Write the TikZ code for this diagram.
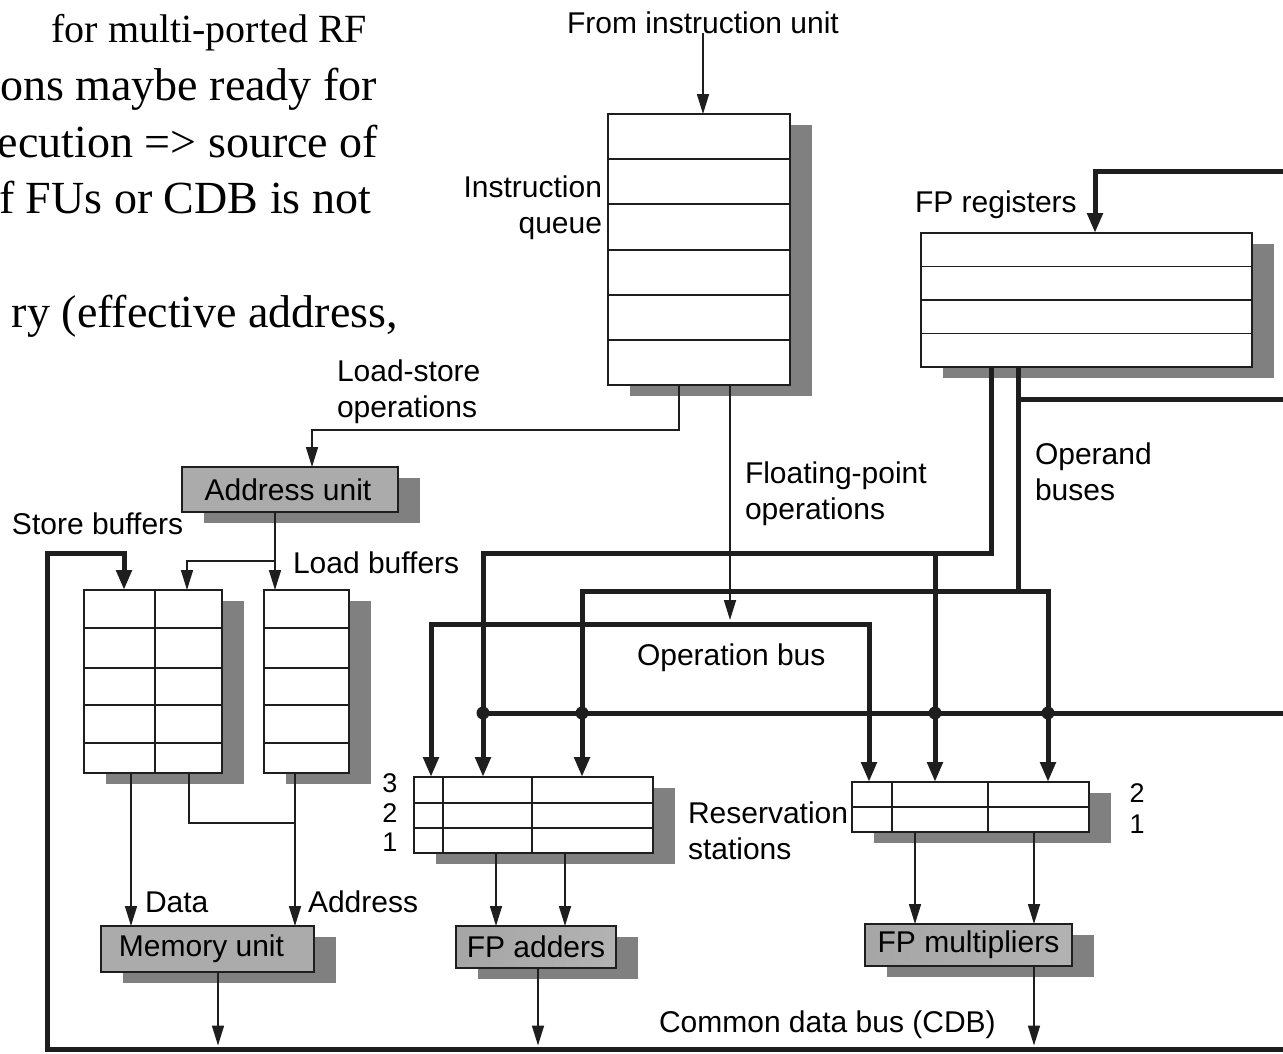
\documentclass[tikz,border=0pt]{standalone}
\usepackage{fontspec}
\setmainfont{Liberation Sans}
\newfontfamily\slidefont{Liberation Serif}
\usetikzlibrary{arrows.meta,shadows}
\definecolor{ln}{HTML}{1E1E1E}
\definecolor{shd}{HTML}{808080}
\definecolor{unitgray}{HTML}{ABABAB}
\begin{document}
\begin{tikzpicture}[x=1pt,y=-1pt,
  every node/.style={inner sep=0pt,outer sep=0pt},
  lbl/.style={font=\fontsize{30}{36}\selectfont},
  digit/.style={font=\fontsize{27}{30}\selectfont,anchor=base},
  slidetext/.style={font=\slidefont\fontsize{46}{57}\selectfont,anchor=base east},
  cell/.style={draw=ln,line width=1.8pt,fill=white,anchor=north west,
     general shadow={fill=shd,shadow xshift=22pt,shadow yshift=-11pt}},
  unit/.style={cell,fill=unitgray,font=\fontsize{30}{36}\selectfont},
  fpunit/.style={unit,left color=black!35,middle color=black!8,right color=black!30},
  grid/.style={draw=ln,line width=1.6pt},
  thin/.style={draw=ln,line width=1.6pt},
  bus/.style={draw=ln,line width=5pt},
  tip/.style={-{Triangle[length=20pt,width=12pt]}},
  btip/.style={-{Triangle[length=20pt,width=15pt]}},
  bstip/.style={{Triangle[length=20pt,width=15pt]}-},
  btips/.style={{Triangle[length=20pt,width=15pt]}-{Triangle[length=20pt,width=15pt]}},
  jdot/.style={fill=ln}
]
\useasboundingbox (0,0) rectangle (1283,1053);
\clip (0,0) rectangle (1283,1053);

% ---------- slide text (cut at the left edge) ----------
\node[slidetext,font=\slidefont\fontsize{40}{57}\selectfont] (t1) at (367,42) {for multi-ported RF};
\node[slidetext] (t2) at (377,100) {ons maybe ready for};
\node[slidetext] (t3) at (378,157) {ecution => source of};
\node[slidetext] (t4) at (371,213) {f FUs or CDB is not};
\node[slidetext] (t5) at (398,327) {ry (effective address,};

% ---------- instruction queue ----------
\node[lbl,anchor=base] (fromiu) at (703,33) {From instruction unit};
\node[cell,minimum width=182pt,minimum height=271pt] (iq) at (608,114) {};
\foreach \yy in {159,204,250,295,340} \draw[grid] (608,\yy) -- (790,\yy);
\node[lbl,align=right,anchor=base east] (iqlbl) at (602,233) {Instruction\\queue};

% ---------- FP registers ----------
\node[cell,minimum width=331pt,minimum height=134pt] (fpr) at (921,233) {};
\foreach \yy in {266.5,300,333.5} \draw[grid] (921,\yy) -- (1252,\yy);
\node[lbl,anchor=base west] (fprlbl) at (915,212) {FP registers};

% ---------- address unit, buffers ----------
\node[unit,minimum width=216pt,minimum height=45pt] (au) at (182,467) {\hspace*{-4pt}Address unit};
\node[cell,minimum width=138pt,minimum height=183pt] (sb) at (84,590) {};
\node[cell,minimum width=85pt,minimum height=183pt] (lb) at (264,590) {};
\foreach \yy in {628,668,705,743} {
  \draw[grid] (84,\yy) -- (222,\yy);
  \draw[grid] (264,\yy) -- (349,\yy);
}
\draw[grid] (155,590) -- (155,773);
\node[lbl,anchor=base west] (sblbl) at (12,534) {Store buffers};
\node[lbl,anchor=base west] (lblbl) at (293,573) {Load buffers};

% ---------- memory unit ----------
\node[unit,minimum width=213pt,minimum height=46pt] (mu) at (101,926) {\hspace*{-12pt}Memory unit};
\node[lbl,anchor=base west] (datalbl) at (145,912) {Data};
\node[lbl,anchor=base west] (addrlbl) at (308,912) {Address};

% ---------- reservation stations ----------
\node[cell,minimum width=239pt,minimum height=76pt] (ars) at (414,777) {};
\foreach \yy in {803,828} \draw[grid] (414,\yy) -- (653,\yy);
\foreach \xx in {443,532} \draw[grid] (\xx,777) -- (\xx,853);
\node[cell,minimum width=237pt,minimum height=50pt] (mrs) at (852,782) {};
\draw[grid] (852,807) -- (1089,807);
\foreach \xx in {892,988} \draw[grid] (\xx,782) -- (\xx,832);
\node[digit] (a3) at (390,792) {3};
\node[digit] (a2) at (390,822) {2};
\node[digit] (a1) at (390,851) {1};
\node[digit] (m2) at (1137,802) {2};
\node[digit] (m1) at (1137,833) {1};
\node[lbl,align=left,anchor=base west] (rslbl) at (688,859) {Reservation\\stations};

% ---------- functional units ----------
\node[fpunit,minimum width=160pt,minimum height=42pt] (fa) at (456,926) {FP adders};
\node[fpunit,minimum width=207pt,minimum height=42pt] (fm) at (865,924) {FP multipliers};

% ---------- other labels ----------
\node[lbl,align=left,anchor=base west] (lslbl) at (337,417) {Load-store\\operations};
\node[lbl,align=left,anchor=base west] (fplbl) at (745,519) {Floating-point\\operations};
\node[lbl,align=left,anchor=base west] (oplbl) at (1035,500) {Operand\\buses};
\node[lbl,anchor=base west] (oblbl) at (637,665) {Operation bus};
\node[lbl,anchor=base west] (cdblbl) at (659,1032) {Common data bus (CDB)};

% ---------- coordinates ----------
\coordinate (lsA) at (679,430);
\coordinate (lsB) at (312,430);
\coordinate (fpo) at (730,620);
\coordinate (auA) at (275,561);
\coordinate (auB) at (187,561);
\coordinate (sbD) at (131,773);
\coordinate (sbA) at (189,773);
\coordinate (sbJ) at (189,823);
\coordinate (lbA) at (295,823);
\coordinate (cdbtip) at (0,1045.5);
\coordinate (cdbR) at (1290,1049);
\coordinate (cdbL) at (47,1049);
\coordinate (cdbU) at (47,553);
\coordinate (cdbS) at (124,553);
\coordinate (cdbT) at (1290,171);
\coordinate (cdbF) at (1095,171);
\coordinate (cdbH) at (1290,713);
\coordinate (j1) at (483,713);
\coordinate (j2) at (582,713);
\coordinate (j3) at (935,713);
\coordinate (j4) at (1048,713);
\coordinate (oA1) at (991,553);
\coordinate (oA2) at (483,553);
\coordinate (oA3) at (935,553);
\coordinate (oB0) at (1018,399);
\coordinate (oB1) at (1018,591);
\coordinate (oB2) at (582,591);
\coordinate (oB3) at (1048,591);
\coordinate (oBR) at (1290,399);
\coordinate (ob1) at (431,624);
\coordinate (ob2) at (869,624);

% ---------- thin connectors ----------
\draw[thin,tip] (fromiu.south) -- (fromiu.south |- iq.north);
\draw[thin,tip] (iq.south -| lsA) -- (lsA) -- (lsB) -- (lsB |- au.north);
\draw[thin,tip] (iq.south -| fpo) -- (fpo);
\draw[thin,tip] (au.south -| auA) -- (auA |- lb.north);
\draw[thin,tip] (auA) -- (auB) -- (auB |- sb.north);
\draw[thin,tip] (sbD) -- (sbD |- mu.north);
\draw[thin] (sbA) -- (sbJ) -- (lbA);
\draw[thin,tip] (lb.south -| lbA) -- (lbA |- mu.north);
\draw[thin,tip] (mu.south -| 218,0) -- (218,0 |- cdbtip);
\draw[thin,tip] (ars.south -| 496,0) -- (496,0 |- fa.north);
\draw[thin,tip] (ars.south -| 565,0) -- (565,0 |- fa.north);
\draw[thin,tip] (fa.south -| 538,0) -- (538,0 |- cdbtip);
\draw[thin,tip] (mrs.south -| 915,0) -- (915,0 |- fm.north);
\draw[thin,tip] (mrs.south -| 1034,0) -- (1034,0 |- fm.north);
\draw[thin,tip] (fm.south -| 1034,0) -- (1034,0 |- cdbtip);

% ---------- buses ----------
\draw[bus,btip] (cdbR) -- (cdbL) -- (cdbU) -- (cdbS) -- (cdbS |- sb.north);
\draw[bus,btip] (cdbT) -- (cdbF) -- (cdbF |- fpr.north);
\draw[bus] (j1) -- (cdbH);
\draw[bus,bstip] (oA2 |- ars.north) -- (oA2) -- (oA1) -- (oA1 |- fpr.south);
\draw[bus,btip] (oA3) -- (oA3 |- mrs.north);
\draw[bus] (oB1) -- (oB1 |- fpr.south);
\draw[bus] (oB0) -- (oBR);
\draw[bus,btips] (oB2 |- ars.north) -- (oB2) -- (oB3) -- (oB3 |- mrs.north);
\draw[bus,btips] (ob1 |- ars.north) -- (ob1) -- (ob2) -- (ob2 |- mrs.north);
\foreach \j in {j1,j2,j3,j4} \fill[jdot] (\j) circle (6.5);
\end{tikzpicture}
\end{document}
